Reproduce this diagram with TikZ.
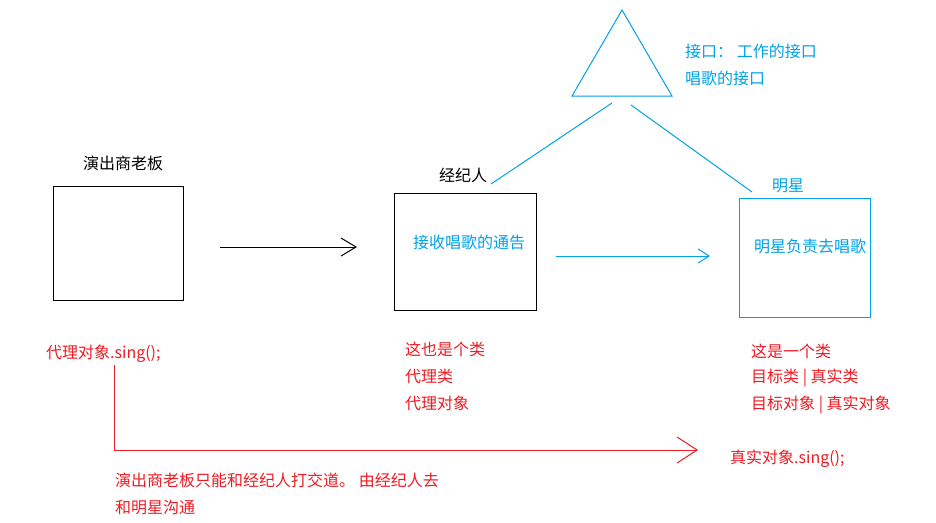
\documentclass[tikz,border=0pt]{standalone}
\usepackage{fontspec}
\setmainfont{Noto Sans CJK SC}
\usetikzlibrary{arrows.meta}
\definecolor{myblue}{RGB}{0,162,232}
\definecolor{myred}{RGB}{237,28,36}
\begin{document}
\begin{tikzpicture}[x=1pt,y=-1pt,
  txt/.style={inner sep=0pt,anchor=west,font=\fontsize{16pt}{19pt}\selectfont},
  bk/.style={draw=black,line width=1pt,inner sep=0pt},
  bl/.style={draw=myblue,line width=1pt},
  rd/.style={draw=myred,line width=1pt}]
\useasboundingbox[fill=white] (0,0) rectangle (936,522);
% boxes
\node[bk,minimum width=130pt,minimum height=114pt] (boss) at (118,243) {};
\node[bk,minimum width=142pt,minimum height=117pt] (agent) at (465,251.5) {};
\node[draw=myblue,line width=1pt,inner sep=0pt,minimum width=131pt,minimum height=119pt] (star) at (804.5,257.5) {};
% triangle
\coordinate (tA) at (622,10);
\coordinate (tB) at (572,96);
\coordinate (tC) at (672,96);
\draw[bl,line join=miter] (tA) -- (tB) -- (tC) -- cycle;
% labels
\node[txt] (bossl) at (83,163) {演出商老板};
\node[txt] (agentl) at (439,175) {经纪人};
\node[txt,text=myblue] (starl) at (772,186) {明星};
\node[txt,text=myblue] (agentin) at (413,242) {接收唱歌的通告};
\node[txt,text=myblue] (starin) at (754,246) {明星负责去唱歌};
\node[txt,text=myblue] (if1) at (685,51) {接口： 工作的接口};
\node[txt,text=myblue] (if2) at (685,78) {唱歌的接口};
\node[txt,text=myred] (proxy) at (46,354) {代理对象.sing();};
\node[txt,text=myred] (a1) at (405,349) {这也是个类};
\node[txt,text=myred] (a2) at (405,376) {代理类};
\node[txt,text=myred] (a3) at (405,403) {代理对象};
\node[txt,text=myred] (s1) at (751,351) {这是一个类};
\node[txt,text=myred] (s2) at (751,378) {目标类 | 真实类};
\node[txt,text=myred] (s3) at (751,405) {目标对象 | 真实对象};
\node[txt,text=myred] (real) at (730,459) {真实对象.sing();};
\node[txt,text=myred] (b1) at (115,480) {演出商老板只能和经纪人打交道。 由经纪人去};
\node[txt,text=myred] (b2) at (115,507) {和明星沟通};
% connectors
\coordinate (k1) at (220,247);
\coordinate (k2) at (357,247);
\draw[line width=1pt,-{Straight Barb[length=15pt,width=18pt,line width=1pt]}] (k1) -- (k2);
\coordinate (b1s) at (556,256);
\coordinate (b1e) at (710,256);
\draw[bl,-{Straight Barb[length=11pt,width=14pt,line width=1pt]}] (b1s) -- (b1e);
\coordinate (l1s) at (612,103);
\coordinate (l1e) at (491,184);
\draw[bl] (l1s) -- (l1e);
\coordinate (l2s) at (631,105);
\coordinate (l2e) at (752,192);
\draw[bl] (l2s) -- (l2e);
\coordinate (r1) at (114,365);
\coordinate (r2) at (114,450);
\coordinate (r3) at (698,450);
\draw[rd,-{Straight Barb[length=20pt,width=26pt,line width=1pt]}] (r1) -- (r2) -- (r3);
\end{tikzpicture}
\end{document}
